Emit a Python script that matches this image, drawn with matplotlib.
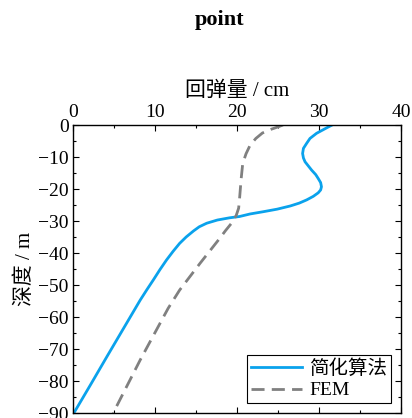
import matplotlib
matplotlib.use("Agg")
import matplotlib.pyplot as plt
from matplotlib.ticker import MultipleLocator

plt.rcParams['font.family'] = ['Liberation Serif', 'Noto Sans CJK SC']
plt.rcParams['axes.unicode_minus'] = True

# 简化算法 curve (rebound cm vs depth m)
simp_x = [31.6, 31.0, 29.7, 28.9, 28.5, 28.1, 28.0, 28.1, 28.3, 28.7, 29.1, 29.6, 29.9, 30.2, 30.3,
          30.2, 29.9, 29.3, 28.5, 27.6, 26.5, 24.9, 23.2, 21.6, 20.3, 19.1, 17.6, 16.3, 15.4,
          14.7, 13.8, 13.0, 12.2, 11.4, 10.6, 9.8, 9.0, 8.2, 6.2, 4.2, 2.2, 0.2]
simp_y = [0.0, -0.8, -2.6, -4.2, -5.7, -7.3, -8.9, -10.3, -11.5, -12.8, -14.1, -15.5, -16.7, -18.0, -19.3,
          -20.3, -21.2, -22.3, -23.4, -24.4, -25.3, -26.3, -27.1, -27.8, -28.6, -29.0, -29.7, -30.7, -31.8,
          -33.1, -35.0, -37.0, -39.5, -42.2, -45.2, -48.4, -51.5, -54.7, -63.4, -72.1, -80.9, -89.6]
# FEM curve
fem_x = [25.6, 25.0, 24.2, 23.1, 22.3, 21.6, 21.1, 20.7, 20.5, 20.3, 20.2, 19.9, 19.3, 18.6,
         17.9, 15.5, 13.0, 11.6, 8.2, 4.9]
fem_y = [0.0, -0.6, -1.3, -2.5, -4.2, -6.3, -9.0, -12.0, -17.0, -23.4, -26.0, -28.3, -30.8, -33.0,
         -35.4, -43.2, -51.6, -57.3, -73.4, -90.0]

fig = plt.figure(figsize=(4.12, 4.18), dpi=100)
ax = fig.add_axes([73 / 412, 1 - 413 / 418, 328 / 412, 288 / 418])

ax.plot(simp_x, simp_y, color="#0aa2ec", linewidth=2.0, label="简化算法")
ax.plot(fem_x, fem_y, color="#808080", linewidth=2.0, linestyle=(0, (4.7, 2.6)), label="FEM")

ax.set_xlim(0, 40)
ax.set_ylim(-90, 0)
ax.xaxis.set_major_locator(MultipleLocator(10))
ax.xaxis.set_minor_locator(MultipleLocator(5))
ax.yaxis.set_major_locator(MultipleLocator(10))
ax.yaxis.set_minor_locator(MultipleLocator(5))
ax.xaxis.tick_top()
ax.xaxis.set_label_position("top")
ax.tick_params(which="both", direction="in", top=True, bottom=True, left=True, right=True,
               labeltop=True, labelbottom=False, labelsize=14, width=0.8)
ax.tick_params(which="major", length=4, pad=3)
ax.tick_params(which="minor", length=2)
for s in ax.spines.values():
    s.set_linewidth(1.0)

ax.set_xlabel("回弹量 / cm", fontsize=15, labelpad=6)
ax.set_ylabel("深度 / m", fontsize=15, labelpad=2)

leg = ax.legend(loc="lower right", fontsize=14, fancybox=False, edgecolor="black",
                framealpha=1, handlelength=2.6, borderpad=0.2, labelspacing=0.2,
                handletextpad=0.4, borderaxespad=0.5)
leg.get_frame().set_linewidth(0.8)

fig.text(0.532, 1 - 20 / 418, "point", fontsize=16, fontweight="bold", ha="center", va="center")

fig.savefig("out.png", dpi=100)
